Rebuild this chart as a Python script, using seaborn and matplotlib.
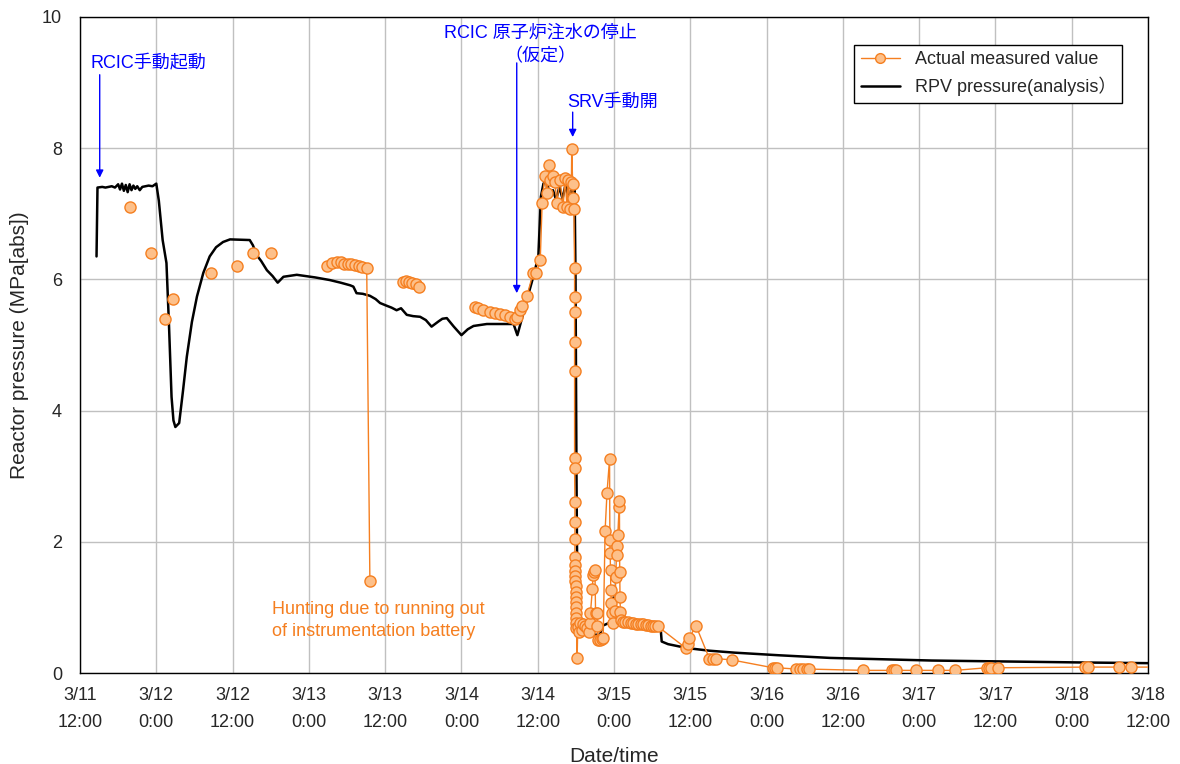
import numpy as np
import pandas as pd
import matplotlib
matplotlib.use('Agg')
import matplotlib.pyplot as plt
from matplotlib.lines import Line2D
import seaborn as sns

START = pd.Timestamp('2011-03-11 12:00')

# RPV pressure (analysis), hours after 3/11 12:00 and MPa[abs]
analysis_hours = [2.6, 2.75, 3.5, 4.0, 5.0, 5.5, 6.0, 6.3, 6.6, 6.9, 7.2, 7.5, 7.8, 8.1,
                  8.4, 8.7, 9.0, 9.4, 9.8, 10.3, 10.8, 11.4, 12.0, 12.4, 13.0, 13.6, 14.0,
                  14.4, 14.7, 15.0, 15.6, 16.2, 16.8, 17.6, 18.4, 19.4, 20.4, 21.4, 22.5,
                  23.6, 26.7, 27.2, 27.8, 28.5, 29.4, 30.3, 31.1, 32.0, 34.1, 37.0, 39.3,
                  41.0, 42.5, 43.0, 43.5, 44.5, 45.6, 46.5, 47.2, 48.2, 49.0, 49.8, 50.5,
                  51.4, 52.4, 53.5, 54.4, 55.3, 56.4, 57.0, 57.7, 58.8, 60.0, 61.0, 61.9,
                  64.0, 68.2, 68.8, 69.5, 70.3, 71.3, 72.1, 72.5, 72.9, 73.4, 73.9, 74.4,
                  74.9, 75.4, 75.9, 76.4, 76.9, 77.4, 77.6, 77.8, 77.95, 78.1, 78.25, 78.4,
                  81.8, 82.2, 83.6, 83.9, 84.3, 85.0, 91.3, 91.5, 92.5, 95.5, 99.0, 103.0,
                  110.0, 118.0, 126.0, 134.0, 142.0, 150.0, 158.0, 168.0]
analysis_mpa = [6.35, 7.40, 7.41, 7.40, 7.42, 7.40, 7.45, 7.37, 7.46, 7.35, 7.44, 7.33, 7.45, 7.36,
                7.43, 7.38, 7.42, 7.36, 7.41, 7.42, 7.43, 7.42, 7.46, 7.20, 6.60, 6.25, 5.30,
                4.21, 3.85, 3.75, 3.81, 4.30, 4.82, 5.35, 5.74, 6.10, 6.35, 6.49, 6.57,
                6.61, 6.60, 6.52, 6.37, 6.28, 6.14, 6.05, 5.95, 6.04, 6.07, 6.03, 5.99,
                5.95, 5.91, 5.89, 5.79, 5.78, 5.75, 5.70, 5.64, 5.60, 5.57, 5.53, 5.56,
                5.46, 5.44, 5.43, 5.38, 5.28, 5.36, 5.40, 5.41, 5.28, 5.15, 5.24, 5.29,
                5.32, 5.32, 5.15, 5.40, 5.69, 6.04, 6.35, 7.26, 7.46, 7.52, 7.26, 7.36,
                7.21, 7.41, 7.23, 7.46, 7.18, 7.44, 7.26, 7.44, 6.00, 3.00, 1.00, 0.60,
                0.58, 0.72, 0.78, 1.15, 0.80, 0.76, 0.73, 0.48, 0.44, 0.38, 0.34, 0.31,
                0.27, 0.23, 0.21, 0.19, 0.18, 0.17, 0.16, 0.15]

# Actual measured values; group = unbroken run of the measured line
meas_hours = [7.9, 11.2, 13.4, 14.7, 20.6, 24.7, 27.2, 30.0,
              38.8, 39.7, 40.5, 41.0, 41.6, 42.1, 42.7, 43.3, 43.9, 44.4, 45.1, 45.6,
              50.8, 51.3, 51.8, 52.3, 52.8, 53.4,
              62.1, 62.6, 63.4, 64.5, 65.3, 66.1, 66.9, 67.7, 68.4, 68.8, 69.2, 69.6,
              70.3, 71.3, 71.8, 72.4, 72.7, 73.1, 73.4, 73.8, 73.9, 74.4, 74.7, 75.0,
              75.5, 76.0, 76.3, 76.6, 76.8, 77.1, 77.3, 77.35, 77.5, 77.6, 77.7,
              77.8, 77.8, 77.8, 77.8, 77.8, 77.8, 77.8, 77.85, 77.85, 77.85, 77.85,
              77.9, 77.9, 77.9, 77.9, 77.95, 77.95, 77.95, 78.0, 78.0, 78.0, 78.05,
              78.05, 78.1, 78.2, 78.3, 78.5, 78.65, 78.9, 79.2, 79.5, 79.7, 80.0, 80.2,
              80.3, 80.6, 80.7, 80.8, 81.0, 81.1, 81.3, 81.4, 81.5, 81.8, 82.1, 82.3,
              82.6, 82.9, 83.3, 83.35, 83.4, 83.45, 83.5, 83.6, 83.7, 83.9, 84.1, 84.3,
              84.4, 84.45, 84.6, 84.8, 84.85, 84.9, 84.95, 85.0, 85.05,
              85.4, 85.8, 86.2, 86.6, 87.0, 87.4, 87.8, 88.2, 88.6, 89.0, 89.4, 89.8,
              90.2, 90.5, 90.9, 95.3, 95.6, 95.8, 96.9, 99.0, 99.5, 100.0, 102.5,
              109.0, 109.3, 109.6, 112.7, 113.3, 113.8, 114.3, 114.7, 123.2, 127.7,
              128.0, 128.4, 131.5, 135.0, 137.7, 142.6, 143.0, 143.3, 144.4, 158.1,
              158.6, 163.5, 165.3, 170.0]
meas_mpa = [7.10, 6.40, 5.40, 5.70, 6.10, 6.20, 6.40, 6.40,
            6.20, 6.25, 6.26, 6.26, 6.24, 6.23, 6.23, 6.22, 6.21, 6.19, 6.18, 1.40,
            5.96, 5.97, 5.96, 5.95, 5.93, 5.89,
            5.58, 5.56, 5.53, 5.51, 5.49, 5.47, 5.45, 5.42, 5.40, 5.42, 5.53, 5.59,
            5.75, 6.10, 6.10, 6.30, 7.17, 7.58, 7.32, 7.74, 7.52, 7.57, 7.49, 7.17,
            7.52, 7.11, 7.54, 7.11, 7.52, 7.08, 7.49, 7.99, 7.45, 7.24, 7.07,
            6.18, 5.73, 5.51, 5.05, 4.60, 3.27, 3.12, 2.60, 2.30, 2.04, 1.77,
            1.64, 1.56, 1.48, 1.40, 1.32, 1.24, 1.16, 1.08, 1.00, 0.92, 0.84,
            0.76, 0.68, 0.23, 0.70, 0.62, 0.76, 0.66, 0.75, 0.72, 0.68, 0.62, 0.76,
            0.92, 1.28, 1.49, 1.54, 1.57, 0.92, 0.91, 0.71, 0.50, 0.50, 0.52, 0.53,
            2.17, 2.75, 3.26, 2.03, 1.83, 1.57, 1.27, 1.06, 0.91, 0.76, 0.95, 1.47,
            1.93, 1.80, 2.10, 2.53, 2.62, 1.54, 1.16, 0.93, 0.81,
            0.78, 0.77, 0.77, 0.76, 0.76, 0.75, 0.75, 0.74, 0.74, 0.73, 0.73, 0.72,
            0.72, 0.72, 0.71, 0.38, 0.44, 0.53, 0.72, 0.22, 0.22, 0.22, 0.20,
            0.08, 0.08, 0.08, 0.06, 0.06, 0.06, 0.06, 0.06, 0.04, 0.04,
            0.04, 0.04, 0.04, 0.04, 0.04, 0.08, 0.08, 0.08, 0.08, 0.09,
            0.09, 0.09, 0.09, 0.09]
meas_group = [0, 1, 2, 3, 4, 5, 6, 7] + [8] * 12 + [9] * 6
meas_group += [10] * (len(meas_hours) - len(meas_group))

tick_labels = ['3/11\n12:00', '3/12\n0:00', '3/12\n12:00', '3/13\n0:00', '3/13\n12:00',
               '3/14\n0:00', '3/14\n12:00', '3/15\n0:00', '3/15\n12:00', '3/16\n0:00',
               '3/16\n12:00', '3/17\n0:00', '3/17\n12:00', '3/18\n0:00', '3/18\n12:00']


def to_time(hours):
    return START + pd.to_timedelta(np.asarray(hours, dtype=float), unit='h')


analysis_df = pd.DataFrame({'time': to_time(analysis_hours), 'mpa': analysis_mpa})
meas_df = pd.DataFrame({'time': to_time(meas_hours), 'mpa': meas_mpa, 'group': meas_group})

sns.set_theme(style='white')
plt.rcParams['font.family'] = ['Liberation Sans', 'Noto Sans CJK JP', 'DejaVu Sans']

ORANGE = '#f57f20'
ORANGE_FACE = '#fdc08a'
BLUE = '#0000ff'

fig = plt.figure(figsize=(11.8, 7.64), dpi=100)
ax = fig.add_axes([80 / 1180, 1 - 673 / 764, 1068 / 1180, 656 / 764])

sns.lineplot(data=analysis_df, x='time', y='mpa', color='black', lw=1.8,
             estimator=None, sort=False, ax=ax, zorder=3)
sns.lineplot(data=meas_df, x='time', y='mpa', units='group', estimator=None, sort=False,
             color=ORANGE, lw=1.0, marker='o', markersize=8, markerfacecolor=ORANGE_FACE,
             markeredgecolor=ORANGE, markeredgewidth=1.0, legend=False, ax=ax, zorder=4)

ticks = pd.date_range(START, periods=len(tick_labels), freq='12h')
ax.set_xlim(ticks[0], ticks[-1])
ax.set_xticks(ticks)
ax.set_xticklabels(tick_labels, fontsize=13, linespacing=1.75)
ax.set_ylim(0, 10)
ax.set_yticks([0, 2, 4, 6, 8, 10])
ax.set_yticklabels(['0', '2', '4', '6', '8', '10'], fontsize=13)
ax.tick_params(axis='x', direction='in', length=5, color='black', pad=10)
ax.tick_params(axis='y', direction='in', length=5, color='black', pad=13)
ax.grid(True, color='#c0c0c0', lw=1.0)
for sp in ax.spines.values():
    sp.set_color('black')
    sp.set_linewidth(1.0)
ax.set_xlabel('Date/time', fontsize=15, labelpad=12)
ax.set_ylabel('Reactor pressure (MPa[abs])', fontsize=15, labelpad=9)


def arrow(h, y_from, y_to):
    ax.annotate('', xy=(to_time([h])[0], y_to), xytext=(to_time([h])[0], y_from),
                arrowprops=dict(arrowstyle='-|>', color=BLUE, lw=1.0, mutation_scale=11,
                                shrinkA=0, shrinkB=0), zorder=5)


arrow(3.1, 9.12, 7.55)
arrow(68.7, 9.30, 5.79)
arrow(77.5, 8.55, 8.17)

ax.text(to_time([10.7])[0], 9.29, 'RCIC手動起動', color=BLUE, fontsize=13,
        ha='center', va='center')
ax.text(to_time([72.4])[0], 9.57, 'RCIC 原子炉注水の停止\n（仮定）', color=BLUE, fontsize=13,
        ha='center', va='center', multialignment='center', linespacing=1.5)
ax.text(to_time([83.7])[0], 8.70, 'SRV手動開', color=BLUE, fontsize=13,
        ha='center', va='center')
ax.text(to_time([30.2])[0], 1.10, 'Hunting due to running out\nof instrumentation battery',
        color=ORANGE, fontsize=13, ha='left', va='top', linespacing=1.4)

handles = [
    Line2D([], [], color=ORANGE, lw=1.0, marker='o', markersize=7,
           markerfacecolor=ORANGE_FACE, markeredgecolor=ORANGE),
    Line2D([], [], color='black', lw=1.8),
]
leg = ax.legend(handles, ['Actual measured value', 'RPV pressure(analysis）'],
                loc='upper right', bbox_to_anchor=(0.976, 0.958), borderaxespad=0,
                fontsize=13, frameon=True, fancybox=False, edgecolor='black',
                framealpha=1, handlelength=2.2, borderpad=0.35, labelspacing=0.5)
leg.get_frame().set_linewidth(1.0)

fig.savefig('out.png', dpi=100)
